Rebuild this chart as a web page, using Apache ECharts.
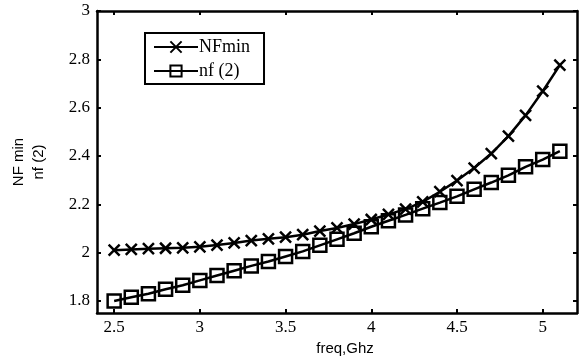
<!DOCTYPE html>
<html>
<head>
<meta charset="utf-8">
<script src="https://cdn.jsdelivr.net/npm/echarts@6/dist/echarts.min.js"></script>
<style>html,body{margin:0;padding:0;background:#fff}#c{width:579px;height:361px}</style>
</head>
<body>
<div id="c"></div>
<script>
const freq = [2.5,2.6,2.7,2.8,2.9,3.0,3.1,3.2,3.3,3.4,3.5,3.6,3.7,3.8,3.9,4.0,4.1,4.2,4.3,4.4,4.5,4.6,4.7,4.8,4.9,5.0,5.1];
const nfMin = [2.01,2.013,2.016,2.018,2.02,2.024,2.031,2.04,2.05,2.057,2.064,2.074,2.089,2.102,2.118,2.137,2.158,2.18,2.21,2.252,2.298,2.35,2.41,2.482,2.568,2.668,2.776];
const nf2 = [1.80,1.815,1.83,1.848,1.865,1.885,1.905,1.925,1.945,1.963,1.984,2.005,2.03,2.055,2.08,2.107,2.132,2.156,2.182,2.207,2.233,2.262,2.29,2.32,2.355,2.385,2.42];
const xTicks = [2.5,3,3.5,4,4.5,5];
const yTicks = [1.8,2,2.2,2.4,2.6,2.8,3];

const serif = '"Liberation Serif","Times New Roman",serif';
const sans = '"Liberation Sans",Arial,sans-serif';
const axisLine = {show:true, lineStyle:{color:'#000', width:2.5}};
const tick = (vals) => ({show:true, inside:true, length:4, customValues:vals, lineStyle:{color:'#000', width:2}});

const chart = echarts.init(document.getElementById('c'), null, {renderer:'canvas'});
chart.setOption({
  animation:false,
  backgroundColor:'#fff',
  grid:{left:97, right:2, top:11, bottom:44},
  legend:{
    orient:'vertical', left:145, top:33,
    data:['NFmin','nf (2)'],
    backgroundColor:'#fff', borderColor:'#000', borderWidth:2,
    padding:[5,14,4,8], itemGap:6, itemWidth:44, itemHeight:14,
    textStyle:{fontFamily:serif, fontSize:18, color:'#000', padding:[0,0,0,-4]}
  },
  xAxis:[{
    type:'value', min:2.4, max:5.2, position:'bottom',
    axisLine:axisLine, axisTick:tick(xTicks), splitLine:{show:false},
    axisLabel:{customValues:xTicks, fontFamily:serif, fontSize:17, color:'#000', margin:6},
    name:'freq,Ghz', nameLocation:'middle', nameGap:28,
    nameTextStyle:{fontFamily:sans, fontSize:15, color:'#000', padding:[0,0,0,16]}
  },{
    type:'value', min:2.4, max:5.2, position:'top',
    axisLine:axisLine, axisTick:tick(xTicks), axisLabel:{show:false}, splitLine:{show:false}
  }],
  yAxis:[{
    type:'value', min:1.75, max:3, position:'left',
    axisLine:axisLine, axisTick:tick(yTicks), splitLine:{show:false},
    axisLabel:{customValues:yTicks, fontFamily:serif, fontSize:17, color:'#000', margin:7},
    name:'NF min\nnf (2)', nameLocation:'middle', nameGap:48, nameRotate:90,
    nameTextStyle:{fontFamily:sans, fontSize:15, color:'#000', lineHeight:20}
  },{
    type:'value', min:1.75, max:3, position:'right',
    axisLine:axisLine, axisTick:tick(yTicks), axisLabel:{show:false}, splitLine:{show:false}
  }],
  series:[{
    name:'NFmin', type:'line',
    data: freq.map((f,i)=>[f, nfMin[i]]),
    symbol:'path://M0,0L10,10M10,0L0,10', symbolSize:11,
    lineStyle:{color:'#000', width:2.5},
    itemStyle:{color:'#000', borderColor:'#000', borderWidth:2.5},
    z:3
  },{
    name:'nf (2)', type:'line',
    data: freq.map((f,i)=>[f, nf2[i]]),
    symbol:'rect', symbolSize:13,
    lineStyle:{color:'#000', width:2.5},
    itemStyle:{color:'rgba(0,0,0,0)', borderColor:'#000', borderWidth:2.5},
    z:2
  }]
});
</script>
</body>
</html>
